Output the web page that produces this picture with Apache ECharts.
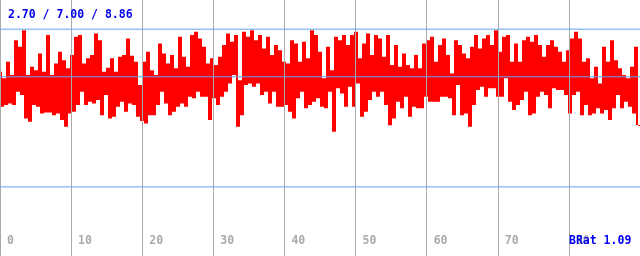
<!DOCTYPE html>
<html><head><meta charset="utf-8">
<script src="https://cdn.jsdelivr.net/npm/echarts@6/dist/echarts.min.js"></script>
<style>html,body{margin:0;padding:0;background:#fff}#c{width:640px;height:256px}</style>
</head><body><div id="c"></div>
<script>
// sample spacing along x (axis units)
const sampleStep = 0.28125;
// signal values, left to right
const part1 = [7.20,5.83,6.94,5.90,7.59,5.96,7.07,5.90,8.43,6.42,8.17,6.29,8.82,5.37,7.07,5.24,7.39,5.90,7.26,5.83,7.91,5.57,7.20,5.61,8.63,5.61,7.07,5.50,7.52,5.57,7.98,5.31,7.65,5.05,7.33,5.57,7.85,5.63,8.56,5.90,8.63,6.42,7.52,5.90,7.72,6.03,7.85,5.96,8.69,6.09,8.43,5.50,7.20,6.29];
const part2 = [7.35,5.37,7.72,5.44,7.20,5.83,7.78,6.03,7.85,5.63,8.50,5.96,7.82,5.90,7.59,5.44,6.68,5.27,7.59,5.18,7.98,5.50,7.26,5.50,7.07,5.90,8.30,6.42,7.91,5.96,7.52,5.50,7.85,5.63,7.33,5.83,8.56,5.96,7.78,5.83,7.39,6.22,8.63,6.16,8.76,6.42,8.50,6.22,8.17,6.22,7.52,5.31,7.72,6.16];
const part3 = [7.46,5.90,7.78,6.22,8.24,6.42,8.69,6.74,8.37,7.07,8.63,5.05,6.87,5.50,8.76,6.68,8.56,6.74,8.82,6.61,8.43,6.74,8.63,6.29,8.11,6.42,8.56,5.96,7.85,6.42,8.24,5.83,8.04,5.83,7.59,5.90,7.52,5.63,8.43,5.37,8.30,6.16,7.59,6.42,8.37,5.77,7.72,5.90,8.82,6.03,8.63,6.16,7.98,5.83];
const part4 = [6.94,5.77,8.17,6.42,7.26,4.85,8.56,6.55,8.43,6.35,8.63,5.83,8.24,6.61,8.63,5.83,8.76,6.74,7.72,5.44,8.30,5.63,8.69,6.09,7.85,6.42,8.63,6.22,8.50,6.42,7.78,5.90,8.63,5.11,7.46,5.37,8.24,6.03,7.39,5.77,7.91,6.22,7.46,5.44,7.33,5.83,7.85,5.77,7.33,5.77,8.30,6.22,8.43,6.03];
const part5 = [8.56,6.03,7.59,6.03,8.24,6.22,8.50,6.22,7.85,6.16,7.13,5.50,8.43,6.68,8.24,5.50,7.91,5.57,7.72,5.05,8.17,5.90,8.63,6.48,8.11,6.61,8.50,6.22,8.63,6.55,8.24,6.55,8.82,6.22,7.98,6.22,8.56,6.94,8.63,6.03,7.59,5.70,8.30,5.90,7.59,6.09,8.43,6.42,8.56,5.50,8.37,5.57,8.63,6.22];
const part6 = [8.24,6.42,7.78,6.29,8.24,5.77,8.43,6.55,8.17,6.48,7.98,6.48,7.59,6.29,8.04,5.57,8.50,6.29,8.76,6.42,8.50,5.50,7.59,5.90,7.72,5.50,6.94,5.57,7.39,5.77,6.74,5.57,8.17,5.70,7.59,5.31,8.43,5.77,7.65,6.29,7.33,5.77,7.07,6.03,6.94,5.83,7.39,5.57,8.17,5.12];
// reference levels (min / avg / max) and labels
const refLevels = [2.70, 7.00, 8.86];
const statsText = '2.70 / 7.00 / 8.86';
const ratioText = 'BRat 1.09';
const xMin = 0, xMax = 90, xStep = 10;

const values = [].concat(part1, part2, part3, part4, part5, part6);
// each column spans the range between two consecutive samples
const columns = [];
for (let i = 0; i < values.length; i++) {
  const a = values[i], b = i + 1 < values.length ? values[i + 1] : values[i];
  columns.push([i * sampleStep, (i + 1) * sampleStep, Math.min(a, b), Math.max(a, b)]);
}

const levelSeries = refLevels.map(v => ({
  type: 'line', data: [[xMin, v], [xMax, v]], z: 6, silent: true,
  showSymbol: false, symbol: 'none',
  lineStyle: {color: '#5fa3ee', width: 1, type: 'solid'}
}));

const chart = echarts.init(document.getElementById('c'), null, {renderer: 'canvas'});
chart.setOption({
  animation: false,
  backgroundColor: '#ffffff',
  grid: {left: 0, right: 0, top: 0, bottom: 0, containLabel: false},
  xAxis: {
    type: 'value', min: xMin, max: xMax, interval: xStep, z: 5,
    axisLine: {show: false}, axisTick: {show: false},
    splitLine: {show: true, lineStyle: {color: '#aaaaaa', width: 1}},
    axisLabel: {
      inside: true, margin: 9, showMaxLabel: false, showMinLabel: true, hideOverlap: false,
      align: 'left', padding: [0, 0, 0, 7],
      color: '#aaaaaa', fontFamily: 'DejaVu Sans Mono', fontWeight: 'bold', fontSize: 11.5
    }
  },
  yAxis: {
    type: 'value', min: 0, max: 10, show: true,
    axisLine: {show: false}, axisTick: {show: false}, axisLabel: {show: false},
    splitLine: {show: false}
  },
  series: [{
    type: 'custom', data: columns, z: 2,
    encode: {x: [0, 1], y: [2, 3]},
    renderItem: function (params, api) {
      const p0 = api.coord([api.value(0), api.value(3)]);
      const p1 = api.coord([api.value(1), api.value(2)]);
      return {
        type: 'rect',
        shape: {x: p0[0], y: p0[1], width: Math.max(1, p1[0] - p0[0]), height: Math.max(1, p1[1] - p0[1])},
        style: {fill: '#ff0000'}
      };
    }
  }].concat(levelSeries),
  graphic: [
    {type: 'text', left: 8, top: 9, z: 100,
     style: {text: statsText, fill: '#0000ee', font: 'bold 11.5px "DejaVu Sans Mono"'}},
    {type: 'text', left: 569, top: 235, z: 100,
     style: {text: ratioText, fill: '#0000ee', font: 'bold 11.5px "DejaVu Sans Mono"'}}
  ]
});
</script>
</body></html>
